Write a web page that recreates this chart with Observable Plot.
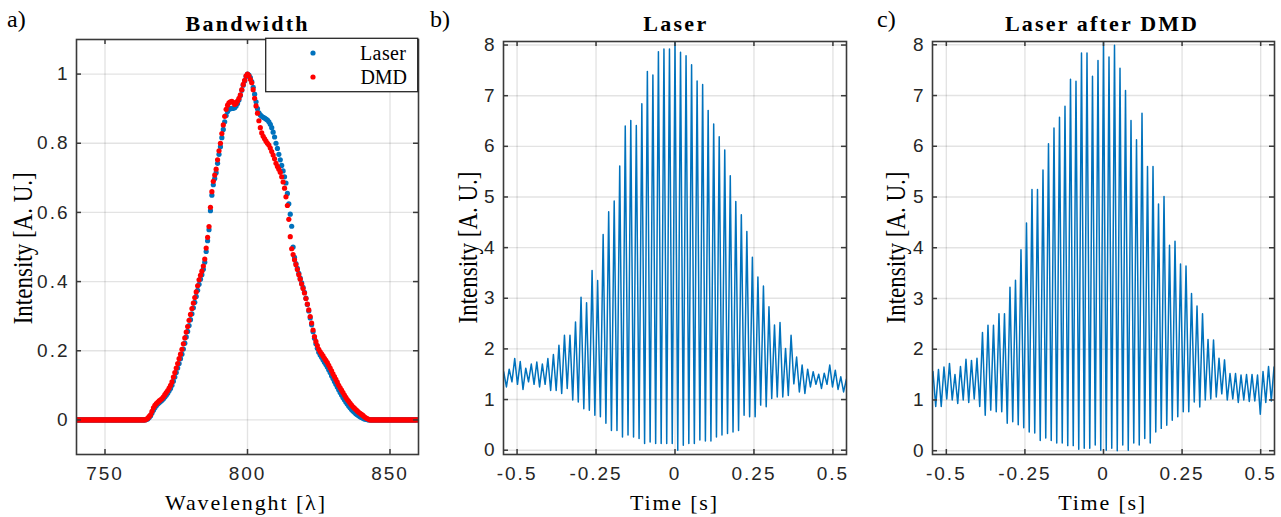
<!DOCTYPE html>
<html><head><meta charset="utf-8">
<script src="https://cdn.jsdelivr.net/npm/d3@7"></script>
<script src="https://cdn.jsdelivr.net/npm/@observablehq/plot@0.6"></script>
<style>
html,body{margin:0;padding:0;background:#fff;}
#chart{position:relative;width:1281px;height:517px;overflow:hidden;background:#fff;}
.panel{position:absolute;top:0;height:517px;}
#overlay{position:absolute;left:0;top:0;pointer-events:none;}
</style></head><body>
<div id="chart">
  <div id="pa" class="panel" style="left:0;width:430px"></div>
  <div id="pb" class="panel" style="left:430px;width:430px"></div>
  <div id="pc" class="panel" style="left:860px;width:421px"></div>
  <svg id="overlay" width="1281" height="517">
    <g font-family="'Liberation Serif','Times New Roman',serif" fill="#000">
      <text x="7" y="27" font-size="24">a)</text>
      <text x="430" y="27" font-size="24">b)</text>
      <text x="877" y="27" font-size="24">c)</text>
      <text x="246.5" y="30.5" font-size="22" font-weight="bold" text-anchor="middle" textLength="122" lengthAdjust="spacing">Bandwidth</text>
      <text x="674.7" y="30.5" font-size="22" font-weight="bold" text-anchor="middle" textLength="63" lengthAdjust="spacing">Laser</text>
      <text x="1101" y="30.5" font-size="22" font-weight="bold" text-anchor="middle" textLength="192" lengthAdjust="spacing">Laser after DMD</text>
      <text transform="translate(31.5,248.3) rotate(-90)" font-size="27" text-anchor="middle" textLength="152" lengthAdjust="spacingAndGlyphs">Intensity [A. U.]</text>
      <text transform="translate(477,247.5) rotate(-90)" font-size="27" text-anchor="middle" textLength="152" lengthAdjust="spacingAndGlyphs">Intensity [A. U.]</text>
      <text transform="translate(904.5,247.5) rotate(-90)" font-size="27" text-anchor="middle" textLength="152" lengthAdjust="spacingAndGlyphs">Intensity [A. U.]</text>
      <text x="245" y="510" font-size="22" text-anchor="middle" textLength="160" lengthAdjust="spacing">Wavelenght [λ]</text>
      <text x="673.5" y="510" font-size="22" text-anchor="middle" textLength="87" lengthAdjust="spacing">Time [s]</text>
      <text x="1101.7" y="510" font-size="22" text-anchor="middle" textLength="87" lengthAdjust="spacing">Time [s]</text>
      <rect x="265.7" y="38.3" width="152" height="53.4" fill="#fff" stroke="#262626" stroke-width="1.3"></rect>
      <circle cx="313" cy="53" r="2.6" fill="#0072BD"></circle>
      <circle cx="313" cy="77" r="2.6" fill="#FF0000"></circle>
      <text x="406" y="60" font-size="20" text-anchor="end" textLength="46" lengthAdjust="spacing">Laser</text>
      <text x="407" y="83.5" font-size="20" text-anchor="end" textLength="46.6" lengthAdjust="spacing">DMD</text>
    </g>
  </svg>
</div>
<script>
// ---------- Panel a: spectra (wavelength grid 740..860 nm, 0.5 nm step) ----------
const wavelengthStart = 740, wavelengthStep = 0.5;
const laserSpectrum = [
  0,0,0,0,0,0,0,0,0,0, 0,0,0,0,0,0,0,0,0,0, 0,0,0,0,0,0,0,0,0,0, 0,0,0,0,0,0,0,0,0,0, 0,0,0,0,0,0,0,0,
  0,0.001,0.003,0.007,0.012,0.02,0.028,0.035,0.041,0.046,
  0.05,0.053,0.057,0.061,0.066,0.071,0.077,0.084,0.091,0.1,
  0.112,0.124,0.137,0.15,0.163,0.177,0.19,0.205,0.222,0.24,
  0.256,0.273,0.29,0.307,0.324,0.34,0.357,0.375,0.392,0.407,
  0.42,0.436,0.456,0.487,0.518,0.55,0.605,0.65,0.68,0.698,
  0.715,0.742,0.768,0.79,0.816,0.84,0.862,0.88,0.892,0.898,
  0.9,0.901,0.901,0.903,0.908,0.915,0.925,0.938,0.953,0.968,
  0.98,0.993,1.0,0.997,0.99,0.978,0.962,0.942,0.92,0.9,
  0.888,0.882,0.878,0.875,0.873,0.87,0.867,0.862,0.855,0.845,
  0.832,0.818,0.8,0.785,0.768,0.752,0.736,0.72,0.703,0.685,
  0.655,0.625,0.595,0.56,0.5,0.47,0.452,0.438,0.424,0.41,
  0.396,0.383,0.369,0.352,0.334,0.315,0.295,0.275,0.255,0.236,
  0.22,0.207,0.196,0.188,0.181,0.174,0.167,0.16,0.153,0.145,
  0.137,0.128,0.12,0.111,0.103,0.095,0.087,0.079,0.072,0.065,
  0.058,0.052,0.046,0.04,0.035,0.03,0.026,0.022,0.018,0.015,
  0.012,0.009,0.007,0.005,0.003,0.002,0.001,0,0,
  0,0,0,0,0,0,0,0,0,0, 0,0,0,0,0,0,0,0,0,0, 0,0,0,0,0,0,0,0,0,0, 0,0,0,0
];
const dmdSpectrum = [
  0,0,0,0,0,0,0,0,0,0, 0,0,0,0,0,0,0,0,0,0, 0,0,0,0,0,0,0,0,0,0, 0,0,0,0,0,0,0,0,0,0, 0,0,0,0,0,0,0,0,
  0,0.002,0.005,0.01,0.015,0.025,0.035,0.042,0.047,0.051,
  0.055,0.058,0.062,0.067,0.073,0.079,0.085,0.092,0.1,0.11,
  0.124,0.137,0.15,0.163,0.177,0.19,0.204,0.22,0.237,0.254,
  0.27,0.288,0.305,0.322,0.338,0.354,0.37,0.388,0.405,0.418,
  0.43,0.445,0.465,0.497,0.528,0.559,0.615,0.66,0.69,0.708,
  0.725,0.752,0.778,0.8,0.828,0.853,0.878,0.898,0.91,0.917,
  0.92,0.921,0.918,0.912,0.915,0.922,0.93,0.94,0.955,0.97,
  0.982,0.995,1.0,0.995,0.985,0.975,0.955,0.93,0.908,0.887,
  0.865,0.845,0.83,0.82,0.813,0.806,0.8,0.795,0.786,0.776,
  0.766,0.755,0.742,0.733,0.725,0.716,0.703,0.688,0.67,0.645,
  0.62,0.58,0.53,0.495,0.478,0.463,0.449,0.435,0.42,0.407,
  0.393,0.38,0.367,0.351,0.335,0.318,0.299,0.28,0.26,0.241,
  0.227,0.215,0.204,0.197,0.191,0.185,0.178,0.172,0.166,0.158,
  0.15,0.142,0.133,0.125,0.117,0.109,0.1,0.093,0.086,0.079,
  0.072,0.065,0.059,0.054,0.048,0.043,0.038,0.034,0.03,0.026,
  0.022,0.019,0.016,0.013,0.009,0.006,0.004,0.002,0,
  0,0,0,0,0,0,0,0,0,0, 0,0,0,0,0,0,0,0,0,0, 0,0,0,0,0,0,0,0,0,0, 0,0,0,0
];
const bandXTicks = [750, 800, 850];
const bandYTicks = [0, 0.2, 0.4, 0.6, 0.8, 1];

// ---------- Panels b, c: interferograms, fringe maxima / minima ----------
const fringePeriod = 0.0175;   // s
const firstFringe = -31;       // index of first maximum
const laserPeaks = [
  1.55,1.60,1.81,1.75,1.62,1.70,1.74,1.70,1.81,1.89,2.07,2.27,2.27,2.53,3.02,2.91,3.55,3.35,4.26,4.71,4.92,5.61,6.40,6.51,6.41,6.84,7.48,7.41,7.87,7.92,7.92,
  8.05,
  7.86,7.79,7.61,7.29,7.22,6.71,6.44,6.19,5.93,5.42,4.91,4.65,4.32,3.81,3.42,3.24,2.83,2.47,2.52,2.01,2.27,1.84,1.68,1.60,1.55,1.50,1.52,1.68,1.58,1.45,1.40
];
const laserTroughs = [
  1.25,1.35,1.30,1.20,1.35,1.30,1.25,1.30,1.18,1.18,1.12,1.22,0.99,0.95,0.82,0.79,0.69,0.66,0.53,0.39,0.39,0.26,0.30,0.26,0.23,0.13,0.16,0.13,0.13,0.13,0.13,
  0.00,0.10,0.13,0.13,0.20,0.18,0.18,0.26,0.30,0.33,0.36,0.39,0.69,0.66,0.66,0.89,0.86,1.02,1.05,1.05,1.08,1.31,1.15,1.12,1.25,1.30,1.22,1.30,1.25,1.20,1.15
];
const dmdPeaks = [
  1.56,1.60,1.65,1.72,1.50,1.66,1.80,1.78,1.82,2.33,2.47,2.47,2.70,2.70,3.22,3.36,3.96,4.49,5.15,5.15,5.53,6.05,6.36,6.57,6.79,7.32,7.28,7.84,7.84,7.38,7.69,
  8.05,
  7.76,7.99,7.54,7.10,6.51,6.13,6.65,5.60,5.60,4.86,5.01,4.05,4.13,3.68,3.64,3.10,2.85,2.70,2.19,2.18,1.82,1.79,1.52,1.52,1.49,1.50,1.50,1.49,1.56,1.66,1.65
];
const dmdTroughs = [
  0.87,0.87,1.02,1.00,0.93,1.00,0.95,1.02,0.87,0.70,0.80,0.77,0.77,0.54,0.57,0.51,0.45,0.37,0.35,0.20,0.25,0.20,0.15,0.15,0.10,0.10,0.03,0.05,0.05,0.11,0.01,
  0.01,0.05,0.00,0.11,0.01,0.15,0.11,0.24,0.15,0.37,0.44,0.50,0.60,0.67,0.77,0.77,0.96,0.86,1.00,1.02,1.06,1.12,1.00,1.02,0.95,1.00,0.97,0.98,0.72,0.95,0.98
];
const timeTicks = [-0.5, -0.25, 0, 0.25, 0.5];
const intensityTicks = [0, 1, 2, 3, 4, 5, 6, 7, 8];

// ---------- build tables ----------
const spectrumRows = laserSpectrum.map((v, i) => ({
  wl: wavelengthStart + i * wavelengthStep, laser: v, dmd: dmdSpectrum[i]
}));
function fringeRows(peaks, troughs) {
  const rows = [];
  peaks.forEach((p, i) => {
    rows.push({t: (firstFringe + i) * fringePeriod, v: p});
    if (i < troughs.length) rows.push({t: (firstFringe + i + 0.5) * fringePeriod, v: troughs[i]});
  });
  return rows;
}

const ink = "#262626", boxInk = "#3a3a3a";
const baseStyle = {
  fontFamily: "'Liberation Sans', Arial, sans-serif", fontSize: "19px",
  color: ink, background: "transparent", letterSpacing: "2px", overflow: "visible"
};
function decor(xt, yt, fw, fh) {
  const t = {stroke: boxInk, strokeWidth: 1.5};
  return [
    Plot.frame({stroke: boxInk, strokeWidth: 1.6}),
    Plot.ruleX(xt, {...t, insetTop: fh - 5}),
    Plot.ruleX(xt, {...t, insetBottom: fh - 5}),
    Plot.ruleY(yt, {...t, insetRight: fw - 5}),
    Plot.ruleY(yt, {...t, insetLeft: fw - 5}),
    Plot.axisX(xt, {tickSize: 0, tickPadding: 12, tickFormat: d => String(d), label: null}),
    Plot.axisY(yt, {tickSize: 0, tickPadding: 7, tickFormat: d => String(d), label: null})
  ];
}
function grids(xt, yt) {
  return [
    Plot.gridX(xt, {stroke: "#000", strokeOpacity: 0.11, strokeWidth: 1.4}),
    Plot.gridY(yt, {stroke: "#000", strokeOpacity: 0.11, strokeWidth: 1.4})
  ];
}

// Panel a
{
  const W = 430, H = 517, ml = 76, mr = 12, mt = 39, mb = 63;
  const p = Plot.plot({
    width: W, height: H, marginLeft: ml, marginRight: mr, marginTop: mt, marginBottom: mb,
    style: baseStyle,
    x: {domain: [740, 860], label: null},
    y: {domain: [-0.1, 1.1], label: null},
    marks: [
      ...grids(bandXTicks, bandYTicks),
      Plot.dot(spectrumRows, {x: "wl", y: "laser", r: 2.6, fill: "#0072BD", clip: true}),
      Plot.dot(spectrumRows, {x: "wl", y: "dmd", r: 2.6, fill: "#FF0000", clip: true}),
      ...decor(bandXTicks, bandYTicks, W - ml - mr, H - mt - mb)
    ]
  });
  document.getElementById("pa").appendChild(p);
}
// Panel b, c
function fringePanel(id, W, ml, mr, xdom, ydom, rows) {
  const H = 517, mt = 41, mb = 63;
  const p = Plot.plot({
    width: W, height: H, marginLeft: ml, marginRight: mr, marginTop: mt, marginBottom: mb,
    style: baseStyle,
    x: {domain: xdom, label: null},
    y: {domain: ydom, label: null},
    marks: [
      ...grids(timeTicks, intensityTicks),
      Plot.line(rows, {x: "t", y: "v", stroke: "#0072BD", strokeWidth: 1.5, clip: true}),
      ...decor(timeTicks, intensityTicks, W - ml - mr, H - mt - mb)
    ]
  });
  document.getElementById(id).appendChild(p);
}
fringePanel("pb", 430, 73, 14, [-0.543, 0.543], [-0.085, 8.07], fringeRows(laserPeaks, laserTroughs));
fringePanel("pc", 421, 72, 7, [-0.544, 0.544], [-0.075, 8.065], fringeRows(dmdPeaks, dmdTroughs));
</script>
</body></html>
